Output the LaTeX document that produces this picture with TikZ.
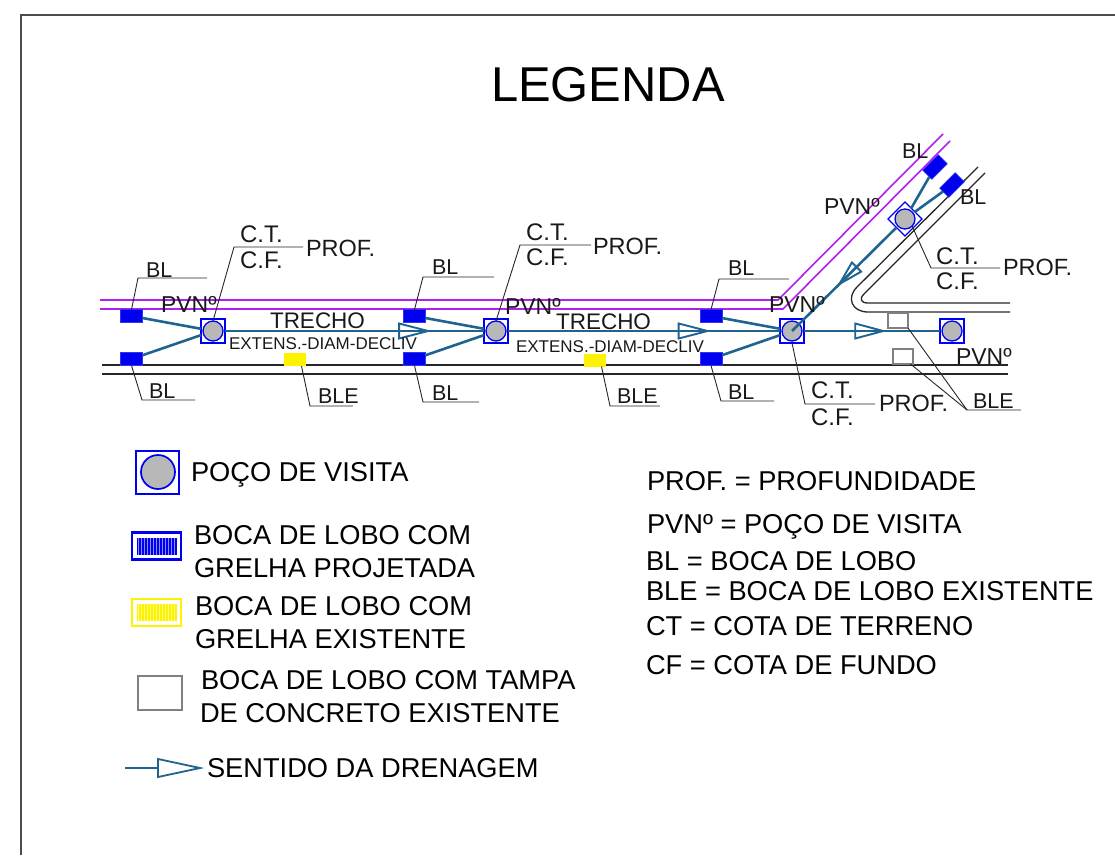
\documentclass[tikz,border=0pt]{standalone}
\usepackage{fontspec}
\setmainfont{Liberation Sans}
\usetikzlibrary{decorations.markings,patterns}
\definecolor{pipeblue}{HTML}{1F6391}
\definecolor{mag}{HTML}{B020F0}
\definecolor{bblue}{HTML}{0000F0}
\newcommand{\pipemark}[3]{\path[decorate,decoration={markings,mark=at position #1 with {\draw[pipeblue,line width=1.9pt,line join=miter] (0,0) -- (-#2pt,#3pt) -- (-#2pt,-#3pt) -- cycle;}}]}
\tikzset{
  x=1pt,y=-1pt,
  every node/.style={inner sep=0pt,outer sep=0pt},
  pvsq/.style={draw=bblue,line width=1.2pt,fill=white,minimum size=24pt},
  pvc/.style={circle,draw=bblue,line width=1.3pt,fill=black!28,minimum size=20pt},
  blbox/.style={fill=bblue,draw=bblue!80!white,line width=.5pt,minimum width=22pt,minimum height=13pt},
  blebox/.style={fill=yellow,minimum width=22pt,minimum height=13pt},
  tampa/.style={draw=black!50,line width=1.1pt,fill=white,minimum width=20pt,minimum height=15pt},
  pipe/.style={draw=pipeblue,line width=2.6pt},
  lead/.style={draw=black!85,line width=.9pt},
  road/.style={draw=black!85,line width=1.3pt},
  magline/.style={draw=mag,line width=1.6pt},
  lab/.style={anchor=base west,font=\fontsize{21.5}{24}\selectfont,text=black!90},
  cota/.style={anchor=base west,font=\fontsize{24}{26}\selectfont,text=black!90},
  prof/.style={anchor=base west,font=\fontsize{23.5}{26}\selectfont,text=black!90},
  pvn/.style={anchor=base west,font=\fontsize{23}{26}\selectfont,text=black!90},
  trecho/.style={anchor=base west,font=\fontsize{22.5}{26}\selectfont,text=black!90},
  small/.style={anchor=base west,font=\fontsize{17}{20}\selectfont,text=black!90},
  leg/.style={anchor=base west,font=\fontsize{27.25}{30}\selectfont,text=black}
}
\begin{document}
\begin{tikzpicture}
\useasboundingbox (0,0) rectangle (1115,855);
% frame
\coordinate (fa) at (21,855); \coordinate (fb) at (21,15); \coordinate (fc) at (1115,15);
\draw[draw=black!70,line width=1.4pt] (fa) -- (fb) -- (fc);
\node[anchor=base west,font=\fontsize{48.9}{52}\selectfont] (title) at (491,101) {LEGENDA};
% magenta
\draw[magline] (100,300) -- (778,300) -- (943,134);
\draw[magline] (100,309) -- (783,309) -- (950,141);
% roads
\draw[road] (102,365) -- (1008,365);
\draw[road] (102,374) -- (1008,374);
\draw[road] (978,167) -- (857,287) .. controls (846,298) and (852,312) .. (868,312) -- (1010,312);
\draw[road] (985,173) -- (864,294) .. controls (859,299) and (861,303) .. (868,303) -- (1010,303);
% inlets
\node[blbox] (b1) at (131.5,316) {};
\node[blbox] (b2) at (131.5,359) {};
\node[blbox] (b3) at (414.5,316) {};
\node[blbox] (b4) at (414.5,359) {};
\node[blbox] (b5) at (711,316) {};
\node[blbox] (b6) at (711,359) {};
\node[blbox,rotate=45] (b7) at (935,167) {};
\node[blbox,rotate=45] (b8) at (952,185) {};
\node[blebox] (y1) at (295,359.5) {};
\node[blebox] (y2) at (595,360) {};
\node[tampa] (t1) at (898,320.5) {};
\node[tampa] (t2) at (903,356.5) {};
% manholes
\node[pvsq] (p1) at (213,331) {}; \node[pvc] (c1) at (213,331) {};
\node[pvsq] (p2) at (496,331) {}; \node[pvc] (c2) at (496,331) {};
\node[pvsq] (p3) at (792,331) {}; \node[pvc] (c3) at (792,331) {};
\node[pvsq] (p4) at (952,331) {}; \node[pvc] (c4) at (952,331) {};
\node[pvsq,rotate=45] (p5) at (905,219) {}; \node[pvc] (c5) at (905,219) {};
% pipes
\draw[pipe] (b1) -- (p1); \draw[pipe] (b2) -- (p1);
\draw[pipe] (b3) -- (p2); \draw[pipe] (b4) -- (p2);
\draw[pipe] (b5) -- (p3); \draw[pipe] (b6) -- (p3);
\draw[pipe] (b7) -- (p5); \draw[pipe] (b8) -- (p5);
\draw[pipe] (p1) -- (p2); \draw[pipe] (p2) -- (p3); \draw[pipe] (p3) -- (p4);
\draw[pipe] (p5) -- (c3.center);
\pipemark{0.76}{29}{7.5} (c1.center) -- (c2.center);
\pipemark{0.715}{29}{7.5} (c2.center) -- (c3.center);
\pipemark{0.57}{28}{7.5} (c3.center) -- (c4.center);
\pipemark{0.58}{24}{6.5} (c5.center) -- (c3.center);
% leaders
\coordinate (e1) at (138,278); \coordinate (f1) at (207,278);
\draw[lead] (b1.north) -- (e1) -- (f1);
\coordinate (e2) at (142,400); \coordinate (f2) at (195,400);
\draw[lead] (b2.south) -- (e2) -- (f2);
\coordinate (e3) at (310,406); \coordinate (f3) at (353,406);
\draw[lead] (y1.-45) -- (e3) -- (f3);
\coordinate (e4) at (234,247); \coordinate (f4) at (303,247);
\draw[lead] (c1.north) -- (e4) -- (f4);
\coordinate (e5) at (423,277); \coordinate (f5) at (494,277);
\draw[lead] (b3.north) -- (e5) -- (f5);
\coordinate (e6) at (423,402); \coordinate (f6) at (479,402);
\draw[lead] (b4.south) -- (e6) -- (f6);
\coordinate (e7) at (520,245); \coordinate (f7) at (591,245);
\draw[lead] (c2.north) -- (e7) -- (f7);
\coordinate (e8) at (610,406); \coordinate (f8) at (660,406);
\draw[lead] (y2.-45) -- (e8) -- (f8);
\coordinate (e9) at (719,279); \coordinate (f9) at (789,279);
\draw[lead] (b5.north) -- (e9) -- (f9);
\coordinate (e10) at (721,401); \coordinate (f10) at (774,401);
\draw[lead] (b6.south) -- (e10) -- (f10);
\coordinate (e11) at (805,404); \coordinate (f11) at (875,404);
\draw[lead] (p3.south) -- (e11) -- (f11);
\coordinate (e12) at (931,268); \coordinate (f12) at (1000,268);
\draw[lead] (c5.south east) -- (e12) -- (f12);
\coordinate (e13) at (967,410); \coordinate (f13) at (1021,410);
\draw[lead] (t1.south east) -- (e13) -- (f13);
\draw[lead] (t2.-45) -- (e13);
% diagram labels
\node[lab] (l1) at (146,277) {BL};
\node[lab] (l2) at (149,398) {BL};
\node[pvn] (l3) at (161,312) {PVNº};
\node[cota] (l4) at (240,242) {C.T.};
\node[cota] (l5) at (240,268) {C.F.};
\node[prof] (l6) at (306,256) {PROF.};
\node[trecho] (l7) at (270,328) {TRECHO};
\node[small] (l8) at (229,349) {EXTENS.-DIAM-DECLIV};
\node[lab] (l9) at (318,403) {BLE};
\node[lab] (l10) at (432,274) {BL};
\node[lab] (l11) at (432,400) {BL};
\node[cota] (l12) at (526,240) {C.T.};
\node[cota] (l13) at (526,265) {C.F.};
\node[prof] (l14) at (593,254) {PROF.};
\node[pvn] (l15) at (505,314) {PVNº};
\node[trecho] (l16) at (556,329) {TRECHO};
\node[small] (l17) at (516,352) {EXTENS.-DIAM-DECLIV};
\node[lab] (l18) at (617,403) {BLE};
\node[lab] (l19) at (728,275) {BL};
\node[lab] (l20) at (728,399) {BL};
\node[pvn] (l21) at (769,312) {PVNº};
\node[cota] (l22) at (811,398) {C.T.};
\node[cota] (l23) at (811,425) {C.F.};
\node[prof] (l24) at (879,411) {PROF.};
\node[lab] (l25) at (973,408) {BLE};
\node[pvn] (l26) at (956,364) {PVNº};
\node[lab] (l27) at (902,158) {BL};
\node[lab] (l28) at (960,204) {BL};
\node[pvn] (l29) at (824,214) {PVNº};
\node[cota] (l30) at (936,264) {C.T.};
\node[cota] (l31) at (936,289) {C.F.};
\node[prof] (l32) at (1003,275) {PROF.};
% legend symbols
\node[draw=bblue,line width=1.7pt,minimum size=43pt] (ls1) at (157.5,472.5) {};
\node[pvc,line width=1.7pt,minimum size=34pt] (ls1c) at (158,472) {};
\node[draw=bblue,line width=2.2pt,minimum width=49pt,minimum height=27pt] (ls2) at (156.5,546) {};
\node[fill=bblue,minimum width=40pt,minimum height=17pt] (ls2b) at (157,546.5) {};
\node[pattern=vertical lines,pattern color=white!55!bblue,minimum width=38pt,minimum height=16pt] (ls2c) at (157,546.5) {};
\node[draw=yellow,line width=2.2pt,minimum width=49pt,minimum height=27pt] (ls3) at (156.5,612.5) {};
\node[fill=yellow,minimum width=40pt,minimum height=17pt] (ls3b) at (157,612.5) {};
\node[pattern=vertical lines,pattern color=white!50!yellow,minimum width=38pt,minimum height=16pt] (ls3c) at (157,612.5) {};
\node[draw=black!50,line width=1.2pt,minimum width=44pt,minimum height=34pt] (ls4) at (160,693) {};
\coordinate (la) at (125,768); \coordinate (lb) at (200,768); \coordinate (lc) at (158,768);
\draw[pipeblue,line width=1.8pt] (la) -- (lc);
\draw[pipeblue,line width=1.8pt] (lb) -- (158,759) -- (158,777) -- cycle;
% legend texts
\node[leg] (t01) at (191,481) {POÇO DE VISITA};
\node[leg] (t02) at (194,544) {BOCA DE LOBO COM};
\node[leg] (t03) at (194,577) {GRELHA PROJETADA};
\node[leg] (t04) at (195,615) {BOCA DE LOBO COM};
\node[leg] (t05) at (195,648) {GRELHA EXISTENTE};
\node[leg] (t06) at (201,689) {BOCA DE LOBO COM TAMPA};
\node[leg] (t07) at (200,722) {DE CONCRETO EXISTENTE};
\node[leg] (t08) at (207,777) {SENTIDO DA DRENAGEM};
\node[leg] (t09) at (647,490) {PROF. = PROFUNDIDADE};
\node[leg] (t10) at (647,533) {PVNº = POÇO DE VISITA};
\node[leg] (t11) at (646,570) {BL = BOCA DE LOBO};
\node[leg] (t12) at (646,600) {BLE = BOCA DE LOBO EXISTENTE};
\node[leg] (t13) at (646,635) {CT = COTA DE TERRENO};
\node[leg] (t14) at (646,674) {CF = COTA DE FUNDO};
\end{tikzpicture}
\end{document}
